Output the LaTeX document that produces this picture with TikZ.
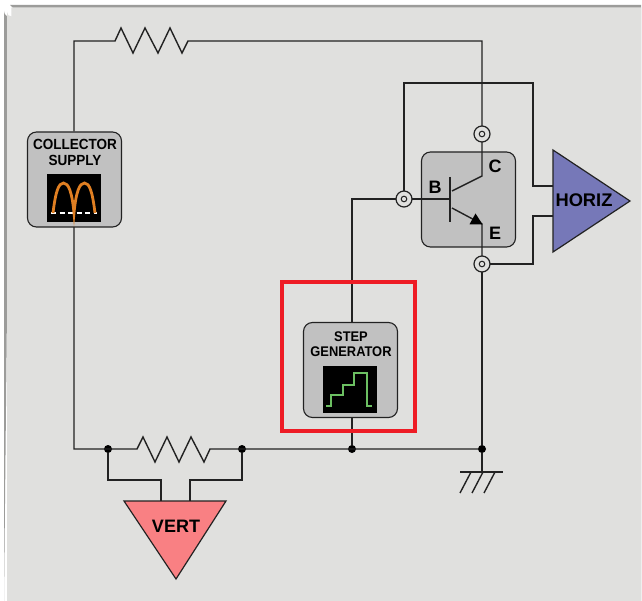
\documentclass[tikz,border=0pt]{standalone}
\usepackage{fontspec}
\setmainfont{Liberation Sans}
\newfontfamily\narrowfam[FakeStretch=0.92]{Liberation Sans}
\definecolor{panel}{HTML}{E0E0DE}
\definecolor{rim}{HTML}{9C9C9A}
\definecolor{boxgrey}{HTML}{C1C1C1}
\definecolor{wirec}{HTML}{222222}
\definecolor{horizc}{HTML}{7678B8}
\definecolor{vertc}{HTML}{F98083}
\definecolor{markred}{HTML}{EE1C25}
\definecolor{orangec}{HTML}{E07F22}
\definecolor{greenc}{HTML}{6CBF62}
\newcommand{\lab}[1]{\fontsize{#1}{15}\selectfont\bfseries}
\newcommand{\nlab}[1]{\narrowfam\fontsize{#1}{15}\selectfont\bfseries}
\tikzset{
  wire/.style={draw=wirec,line width=1.4pt,line join=miter},
  unitbox/.style={draw=wirec,fill=boxgrey,line width=1.1pt,rounded corners=9pt,minimum width=94pt,minimum height=95pt,inner sep=0pt,outer sep=0pt},
  screen/.style={fill=black,draw=none,inner sep=0pt,outer sep=0pt},
  terminal/.style={circle,draw=wirec,fill=panel,line width=1.2pt,minimum size=16pt,inner sep=0pt,outer sep=0pt},
  dotj/.style={circle,fill=black,minimum size=8pt,inner sep=0pt,outer sep=0pt},
  amp/.style={draw=wirec,line width=1.2pt,line join=miter},
  txt/.style={inner sep=0pt,outer sep=0pt,text=black}
}
\begin{document}
\begin{tikzpicture}[x=1pt,y=-1pt]
\useasboundingbox (0,0) rectangle (642,601);
% panel
\fill[white] (0,0) rectangle (642,601);
\fill[rim] (4,601) -- (4,11) arc[start angle=180,end angle=90,radius=6] (10,5) -- (641,5) -- (641,601) -- cycle;
\fill[panel] (7,599) -- (7,12) arc[start angle=180,end angle=90,radius=4.5] (11.5,7.5) -- (641,7.5) -- (641,601) -- (7,601) -- cycle;

% units
\node[unitbox] (cs) at (74.5,179.5) {};
\node[unitbox] (tr) at (468.5,199.5) {};
\node[unitbox] (sg) at (350.5,370) {};
\node[screen,minimum width=54pt,minimum height=48pt] (csscr) at (74,198) {};
\node[screen,minimum width=54pt,minimum height=47pt] (sgscr) at (350,389.5) {};
\node[txt] (cslab) at (75,144.5) {\nlab{14.7}COLLECTOR};
\node[txt] (cslabb) at (75,160) {\nlab{14.7}SUPPLY};
\node[txt] (sglab) at (351,336.5) {\nlab{14}STEP};
\node[txt] (sglabb) at (351,351.5) {\nlab{14}GENERATOR};

% screen traces
\draw[white,line width=1.6pt,dash pattern=on 5pt off 3.5pt] (51,213) -- (97,213);
\draw[orangec,line width=2.8pt] (53,213) .. controls (55.5,192) and (58.5,183) .. (63.5,183) .. controls (68.5,183) and (72,192) .. (74,213)
  .. controls (76,192) and (79.5,183) .. (84.5,183) .. controls (89.5,183) and (92.5,192) .. (95,213);
\draw[greenc,line width=2.8pt,line join=miter] (326,406) -| (331,395) -| (343,385) -| (354,373) -| (367,406) -- (372,406);

% amplifiers
\coordinate (h1) at (553,150); \coordinate (h2) at (630,201); \coordinate (h3) at (553,252);
\coordinate (v1) at (124,501); \coordinate (v2) at (226,501); \coordinate (v3) at (176,579);
\draw[amp,fill=horizc] (h1) -- (h2) -- (h3) -- cycle;
\draw[amp,fill=vertc] (v1) -- (v2) -- (v3) -- cycle;
\node[txt] (hlab) at (584,200.5) {\lab{18.3}HORIZ};
\node[txt] (vlab) at (176,526.5) {\lab{18}VERT};

% terminals and junctions
\node[terminal] (tc) at (482,134) {};
\node[terminal] (te) at (482,264) {};
\node[terminal] (tb) at (404,199) {};
\foreach \n in {tc,te,tb} \fill[panel,draw=wirec,line width=1pt] (\n) circle[radius=2.8pt];
\node[dotj] (j1) at (108,449) {};
\node[dotj] (j2) at (242,449) {};
\node[dotj] (j3) at (352,449) {};
\node[dotj] (j4) at (482,449) {};

% helper coordinates
\coordinate (csT) at (74,131.5);
\coordinate (csB) at (74,227);
\coordinate (sgT) at (352,322.5);
\coordinate (sgB) at (352,417.5);
\coordinate (colK) at (482,176);
\coordinate (emK) at (482,224);
\coordinate (baseK) at (450,199);
\coordinate (hin1) at (553,186);
\coordinate (hin2) at (553,216);
\coordinate (vin1) at (161,501);
\coordinate (vin2) at (190,501);
\coordinate (gnd) at (482,472);

% wires
\draw[wire] (csT) -- (74,41) -- (115,41) -- (121,28) -- (133,53) -- (145,28) -- (158,53) -- (170,28) -- (182,53) -- (188,41) -- (482,41) -- (tc.north);
\draw[wire] (tc.south) -- (colK) -- (452,191);
\draw[wire] (tb.east) -- (baseK);
\draw[wire] (450,177) -- (450,222);
\draw[wire] (452,208) -- (emK) -- (te.north);
\fill[black] (emK) ++(0.5,0.3) -- (475.5,213.5) -- (469.5,224.3) -- cycle;
\draw[wire] (te.south) -- (j4) -- (gnd);
\draw[wire] (tb.north) -- (404,83) -- (533,83) -- (533,186) -- (hin1);
\draw[wire] (te.east) -- (533,264) -- (533,216) -- (hin2);
\draw[wire] (tb.west) -- (352,199) -- (sgT);
\draw[wire] (sgB) -- (j3);
\draw[wire] (csB) -- (74,449) -- (137,449) -- (143,437) -- (155,462) -- (167,437) -- (179,462) -- (191,437) -- (204,462) -- (210,449) -- (j4);
\draw[wire] (j1) -- (108,480) -- (161,480) -- (vin1);
\draw[wire] (j2) -- (242,480) -- (190,480) -- (vin2);

% ground
\draw[wire] (460,472) -- (503,472);
\draw[wire] (471,472) -- (460,493);
\draw[wire] (483,472) -- (472,493);
\draw[wire] (495,472) -- (484,493);

% highlight
\draw[markred,line width=4pt] (282,282) rectangle (415,431);

% transistor labels
\node[txt] (lb) at (435,187) {\lab{18}B};
\node[txt] (lc) at (495,166) {\lab{18}C};
\node[txt] (le) at (495,233) {\lab{18}E};
\end{tikzpicture}
\end{document}
